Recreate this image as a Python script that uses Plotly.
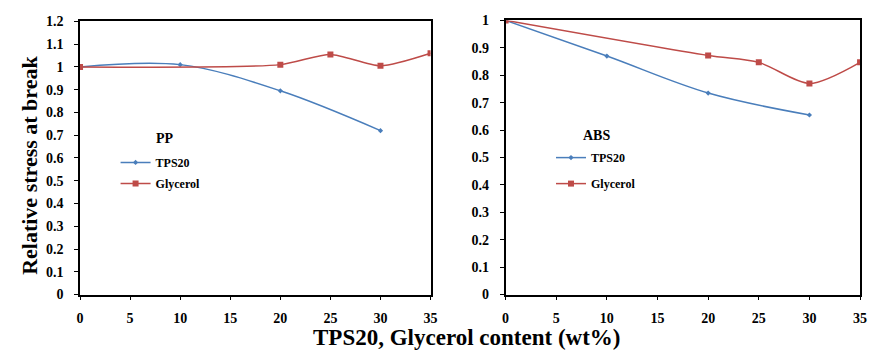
import plotly.graph_objects as go

W, H = 872, 361

# Data
pp_tps_x = [0, 10, 20, 30]
pp_tps_y = [1.0, 1.01, 0.895, 0.72]
pp_gly_x = [0, 20, 25, 30, 35]
pp_gly_y = [1.0, 1.01, 1.055, 1.005, 1.06]

abs_tps_x = [0, 10, 20, 30]
abs_tps_y = [1.0, 0.87, 0.735, 0.655]
abs_gly_x = [0, 20, 25, 30, 35]
abs_gly_y = [1.0, 0.872, 0.847, 0.77, 0.847]

x_ticks = [0, 5, 10, 15, 20, 25, 30, 35]

BLUE = "#4a7ebb"
RED = "#be4b48"
FONT = "Liberation Serif"

fig = go.Figure()

def add(x, y, name, color, symbol, size, xa, ya, legend, smooth):
    fig.add_trace(go.Scatter(
        x=x, y=y, name=name, mode="lines+markers",
        line=dict(color=color, width=1.5, shape="spline", smoothing=smooth),
        marker=dict(color=color, symbol=symbol, size=size),
        xaxis=xa, yaxis=ya, legend=legend, legendgroup=legend + name,
    ))

add(pp_tps_x, pp_tps_y, "TPS20", BLUE, "diamond", 4, "x", "y", "legend", 1.0)
add(pp_gly_x, pp_gly_y, "Glycerol", RED, "square", 6, "x", "y", "legend", 0.7)
add(abs_tps_x, abs_tps_y, "TPS20", BLUE, "diamond", 4, "x2", "y2", "legend2", 1.0)
add(abs_gly_x, abs_gly_y, "Glycerol", RED, "square", 6, "x2", "y2", "legend2", 0.8)

tickfont = dict(family=FONT, size=14, color="black", weight="bold")
axis_common = dict(
    showline=True, linecolor="black", linewidth=1.5, mirror=True,
    ticks="outside", ticklen=4, tickcolor="black", tickwidth=1,
    showgrid=False, zeroline=False, tickfont=tickfont,
)

def px_dom_x(a, b):
    return [a / W, b / W]

def px_dom_y(top, bottom):
    return [1 - bottom / H, 1 - top / H]

legend_common = dict(
    bgcolor="rgba(0,0,0,0)", font=dict(family=FONT, size=12, color="black", weight="bold"),
    itemwidth=30, xanchor="left", yanchor="top",
)

fig.update_layout(
    width=W, height=H,
    margin=dict(l=0, r=0, t=0, b=0),
    paper_bgcolor="white", plot_bgcolor="white",
    xaxis=dict(domain=px_dom_x(77, 432), range=[0, 35], tickvals=x_ticks, anchor="y",
               ticklabelstandoff=6, **axis_common),
    yaxis=dict(domain=px_dom_y(15, 300), range=[0, 1.2], dtick=0.1, anchor="x",
               ticklabelstandoff=8, **axis_common),
    xaxis2=dict(domain=px_dom_x(508, 867), range=[0, 35], tickvals=x_ticks, anchor="y2",
                ticklabelstandoff=6, **axis_common),
    yaxis2=dict(domain=px_dom_y(14, 300), range=[0, 1.0], dtick=0.1, anchor="x2",
                ticklabelstandoff=8, **axis_common),
    legend=dict(x=113 / W, y=1 - 147 / H, tracegroupgap=2, **legend_common),
    legend2=dict(x=554 / W, y=1 - 142 / H, tracegroupgap=7, **legend_common),
    annotations=[
        dict(text="Relative stress at break", x=25 / W, y=1 - 165 / H, xref="paper", yref="paper",
             textangle=-90, showarrow=False, xanchor="center", yanchor="middle",
             font=dict(family=FONT, size=22, color="black", weight="bold")),
        dict(text="TPS20, Glycerol content (wt%)", x=468 / W, y=1 - 345 / H, xref="paper", yref="paper",
             showarrow=False, xanchor="center", yanchor="middle",
             font=dict(family=FONT, size=23, color="black", weight="bold")),
        dict(text="PP", x=163 / W, y=1 - 137 / H, xref="paper", yref="paper",
             showarrow=False, xanchor="center", yanchor="middle",
             font=dict(family=FONT, size=14, color="black", weight="bold")),
        dict(text="ABS", x=600 / W, y=1 - 134 / H, xref="paper", yref="paper",
             showarrow=False, xanchor="center", yanchor="middle",
             font=dict(family=FONT, size=14, color="black", weight="bold")),
    ],
)

fig.write_html("out.html")
